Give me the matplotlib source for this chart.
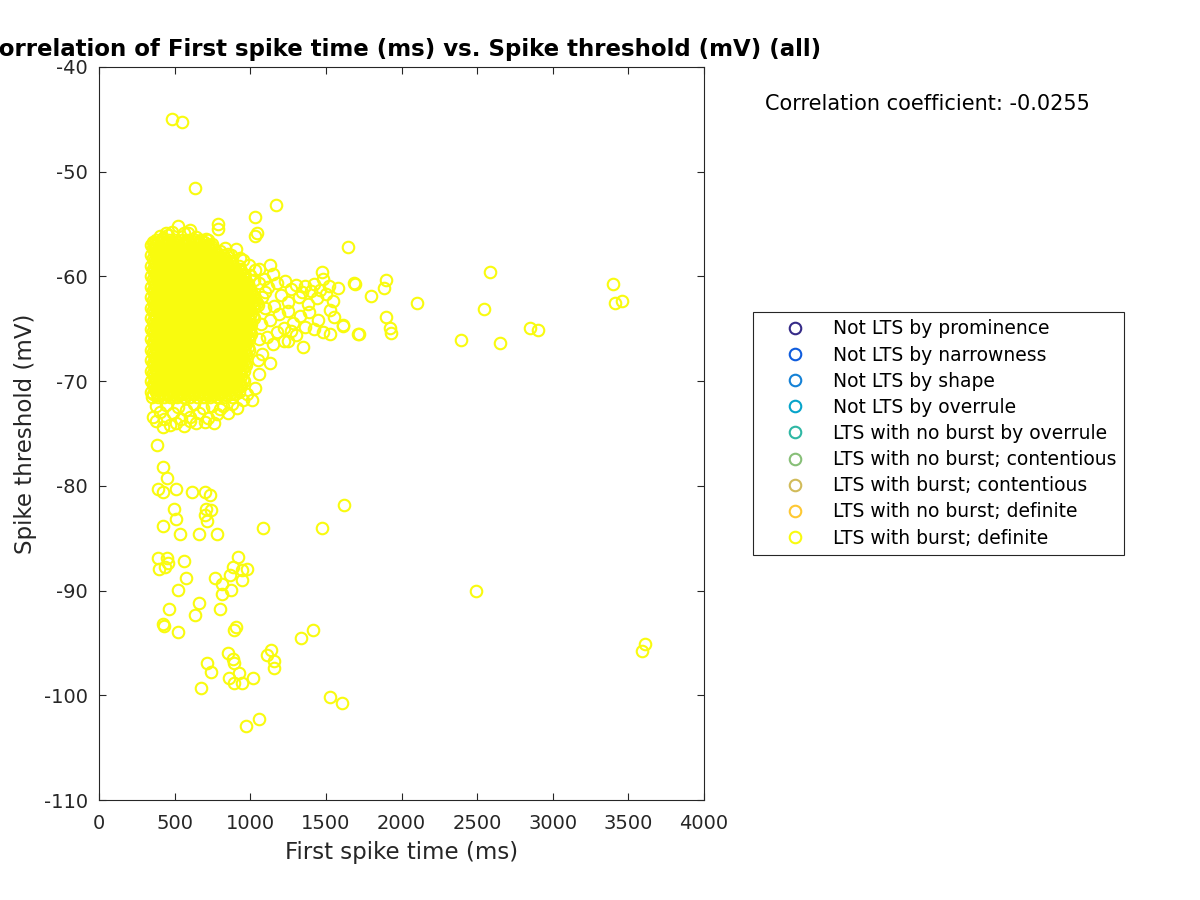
import matplotlib
matplotlib.use("Agg")
import matplotlib.pyplot as plt

# ---------------- data ----------------
categories = ["Not LTS by prominence", "Not LTS by narrowness", "Not LTS by shape",
              "Not LTS by overrule", "LTS with no burst by overrule",
              "LTS with no burst; contentious", "LTS with burst; contentious",
              "LTS with no burst; definite", "LTS with burst; definite"]
category_colors = ["#352A87", "#0F5CDD", "#1481D6", "#06A4CA", "#2EB7A4",
                   "#87BF77", "#D1BB59", "#FEC832", "#F9FB0E"]

# dense core of the "LTS with burst; definite" cloud, read row by row (mV, then ms values)
core_row_y = [-56.5, -56.75, -57.0, -57.25, -57.5, -57.75, -58.0, -58.25, -58.5, -58.75,
              -59.0, -59.25, -59.5, -59.75, -60.0, -60.25, -60.5, -60.75, -61.0, -61.25,
              -61.5, -61.75, -62.0, -62.25, -62.5, -62.75, -63.0, -63.25, -63.5, -63.75,
              -64.0, -64.25, -64.5, -64.75, -65.0, -65.25, -65.5, -65.75, -66.0, -66.25,
              -66.5, -66.75, -67.0, -67.25, -67.5, -67.75, -68.0, -68.25, -68.5, -68.75,
              -69.0, -69.25, -69.5, -69.75, -70.0, -70.25, -70.5, -70.75, -71.0, -71.25, -71.5]
core_row_x = [
    [378, 420, 463, 505, 548, 590, 633, 676, 720],
    [354, 388, 423, 456, 490, 524, 559, 592, 626, 660, 694],
    [345, 379, 414, 447, 482, 515, 549, 584, 617, 652, 685, 719],
    [354, 389, 422, 456, 491, 524, 558, 593, 626, 660, 695, 728],
    [362, 396, 431, 464, 498, 533, 566, 601, 634, 668, 703, 736, 770],
    [371, 405, 440, 473, 507, 542, 575, 609, 644, 677, 711, 746, 779],
    [346, 379, 413, 448, 481, 516, 549, 583, 618, 651, 686, 719, 753, 788, 821],
    [354, 388, 422, 457, 490, 524, 558, 593, 626, 660, 694, 729, 762, 796, 830],
    [362, 397, 430, 464, 499, 532, 566, 600, 635, 668, 702, 737, 770, 804, 839, 872],
    [371, 405, 439, 474, 507, 541, 575, 610, 643, 677, 711, 746, 779, 813, 847, 881],
    [345, 380, 413, 447, 481, 516, 549, 583, 617, 652, 685, 719, 754, 787, 821, 856, 889, 923],
    [354, 388, 423, 456, 490, 524, 559, 592, 626, 660, 694, 728, 763, 796, 830, 864, 898, 932],
    [362, 396, 431, 464, 498, 532, 567, 600, 634, 669, 702, 736, 771, 804, 838, 873, 906, 940],
    [371, 405, 439, 473, 508, 541, 575, 609, 643, 678, 711, 745, 779, 813, 848, 881, 915, 949],
    [345, 379, 413, 448, 481, 515, 550, 583, 617, 651, 686, 719, 753, 787, 822, 855, 889, 924, 957],
    [354, 389, 422, 456, 490, 525, 558, 592, 626, 661, 694, 728, 762, 796, 831, 864, 898, 932, 966],
    [363, 396, 430, 465, 498, 532, 566, 601, 634, 668, 702, 737, 770, 804, 839, 872, 906, 940, 975],
    [371, 405, 440, 473, 507, 541, 576, 609, 643, 677, 712, 745, 779, 813, 847, 882, 915, 949, 983],
    [345, 379, 414, 447, 481, 515, 549, 584, 617, 651, 685, 720, 753, 787, 821, 856, 889, 923, 957, 991],
    [354, 388, 422, 457, 490, 524, 558, 592, 627, 660, 694, 728, 762, 797, 830, 864, 898, 932, 967, 1000],
    [362, 397, 430, 464, 498, 533, 566, 600, 634, 669, 702, 736, 770, 805, 838, 872, 906, 941, 974, 1008],
    [371, 405, 439, 473, 508, 541, 575, 609, 643, 677, 711, 746, 779, 813, 847, 881, 916, 949, 983, 1017],
    [346, 379, 413, 447, 482, 515, 549, 583, 618, 651, 685, 719, 754, 787, 821, 855, 890, 923, 957, 991, 1025],
    [354, 388, 423, 456, 490, 524, 558, 593, 626, 660, 694, 728, 763, 796, 830, 864, 898, 933, 966, 1000, 1034],
    [362, 396, 431, 464, 498, 532, 567, 600, 634, 668, 703, 736, 770, 804, 839, 872, 906, 940, 975, 1008, 1042],
    [371, 405, 439, 474, 507, 541, 575, 609, 644, 677, 711, 745, 779, 814, 847, 881, 915, 949, 984, 1017, 1051],
    [345, 380, 413, 447, 481, 516, 549, 583, 617, 652, 685, 719, 753, 788, 821, 855, 889, 924, 957, 991, 1025],
    [354, 388, 422, 456, 491, 524, 558, 592, 626, 661, 694, 728, 762, 796, 830, 865, 898, 932, 966, 1000],
    [362, 396, 430, 465, 498, 532, 566, 601, 634, 668, 702, 737, 770, 804, 838, 873, 906, 940, 974, 1008],
    [371, 405, 440, 473, 507, 541, 575, 610, 643, 677, 711, 745, 780, 813, 847, 881, 915, 950, 983, 1017],
    [345, 379, 413, 448, 481, 515, 549, 584, 617, 651, 685, 720, 753, 787, 821, 856, 889, 923, 957, 992, 1025],
    [354, 389, 422, 456, 490, 524, 559, 592, 626, 660, 694, 729, 762, 796, 830, 864, 899, 932, 966, 1000],
    [363, 396, 430, 464, 499, 532, 566, 600, 635, 668, 702, 736, 771, 804, 838, 872, 907, 940, 974, 1008],
    [371, 405, 439, 473, 507, 542, 575, 609, 643, 677, 712, 745, 779, 813, 847, 881, 916, 949, 983],
    [345, 379, 414, 447, 481, 515, 550, 583, 617, 651, 686, 719, 753, 787, 822, 855, 889, 923, 958, 991],
    [354, 388, 423, 456, 490, 524, 558, 593, 626, 660, 694, 728, 763, 796, 830, 864, 898, 932, 967, 1000],
    [362, 397, 430, 464, 498, 533, 566, 600, 634, 669, 702, 736, 770, 805, 838, 872, 906, 941, 974, 1008],
    [371, 405, 440, 473, 507, 541, 576, 609, 643, 677, 711, 746, 779, 813, 847, 882, 915, 949, 983],
    [346, 379, 413, 447, 482, 515, 549, 583, 618, 651, 685, 719, 754, 787, 821, 855, 890, 923, 957, 991],
    [354, 388, 422, 457, 490, 524, 558, 592, 627, 660, 694, 728, 762, 797, 830, 864, 898, 932, 966],
    [362, 396, 431, 464, 498, 532, 567, 600, 634, 668, 703, 736, 770, 804, 839, 872, 906, 940, 974],
    [371, 405, 439, 473, 508, 541, 575, 609, 643, 677, 711, 745, 779, 814, 847, 881, 915, 949, 983],
    [345, 380, 413, 447, 481, 516, 549, 583, 617, 652, 685, 719, 753, 788, 821, 855, 889, 924, 957, 991],
    [354, 388, 423, 456, 490, 524, 559, 592, 626, 660, 694, 728, 763, 796, 830, 864, 898, 932, 966],
    [362, 396, 430, 465, 498, 532, 566, 601, 634, 668, 702, 737, 770, 804, 838, 873, 906, 940, 974],
    [371, 405, 439, 474, 507, 541, 575, 610, 643, 677, 711, 745, 779, 813, 848, 881, 915, 949],
    [345, 379, 413, 448, 481, 515, 549, 584, 617, 651, 685, 720, 753, 787, 821, 856, 889, 923, 957],
    [354, 389, 422, 456, 490, 525, 558, 592, 626, 661, 694, 728, 762, 796, 831, 864, 898, 932, 966],
    [363, 396, 430, 464, 499, 532, 566, 600, 635, 668, 702, 736, 771, 804, 838, 872, 907, 940, 974],
    [371, 405, 440, 473, 507, 541, 576, 609, 643, 677, 712, 745, 779, 813, 847, 882, 915, 949],
    [345, 379, 414, 447, 481, 515, 550, 583, 617, 651, 686, 719, 753, 787, 822, 855, 889, 923, 957],
    [354, 388, 422, 457, 490, 524, 558, 592, 627, 660, 694, 728, 762, 797, 830, 864, 898, 932],
    [362, 397, 430, 464, 498, 533, 566, 600, 634, 669, 702, 736, 770, 805, 838, 872, 906, 940],
    [371, 405, 439, 473, 508, 541, 575, 609, 643, 677, 711, 746, 779, 813, 847, 881, 916, 949],
    [346, 379, 413, 447, 482, 515, 549, 583, 618, 651, 685, 719, 754, 787, 821, 855, 890, 923, 957],
    [354, 388, 423, 456, 490, 524, 558, 593, 626, 660, 694, 728, 763, 796, 830, 864, 898, 933],
    [362, 396, 431, 464, 498, 532, 567, 600, 634, 668, 703, 736, 770, 804, 839, 872, 906, 940],
    [371, 405, 439, 474, 507, 541, 575, 609, 644, 677, 711, 745, 779, 814, 847, 881, 915],
    [345, 380, 413, 447, 481, 516, 549, 583, 617, 652, 685, 719, 753, 788, 821, 855, 889, 923],
    [354, 388, 422, 456, 491, 524, 558, 592, 626, 661, 694, 728, 762, 796, 830, 865, 898],
    [352, 390, 430, 470, 515, 560, 600, 645, 690, 735, 780, 830, 880],
]

# edges of the cloud and its tail (ms, mV)
edge_x = [366, 405, 440, 480, 524, 560, 601, 640, 668, 710, 750, 784, 784, 800, 833, 870, 905, 950,
          990, 1030, 1060, 1130, 1000, 1025, 1060, 420, 455, 590, 740, 850, 930,
          1090, 1120, 1150, 1180, 1200, 1230, 1250, 1270, 1300, 1320, 1340, 1360, 1380, 1400, 1420,
          1440, 1460, 1480, 1500, 1520, 1545, 1474, 1582, 1610, 1686, 1693, 1721, 1801, 1527, 1554,
          1483, 1527, 1615, 1714, 1884, 1898, 2105, 2587, 3398, 3412, 3456, 2545, 1898, 1924, 1928,
          2850, 2905, 2393, 2653, 1648,
          1100, 1130, 1160, 1190, 1220, 1250, 1280, 1300, 1330, 1360, 1390, 1420, 1450, 1110, 1150,
          1180, 1220, 1250, 1270, 1349, 1080, 1060, 1050, 1130, 1031, 1010, 1080, 1070, 1060, 1100,
          357, 380, 405, 440, 470, 490, 520, 545, 575, 602, 630, 660, 690, 720, 750, 778, 800, 820,
          850, 880, 910, 952, 932, 980, 380, 430, 510, 560, 640, 700, 760, 420, 600]
edge_y = [-56.85, -56.1, -55.9, -55.8, -55.2, -55.9, -55.6, -56.2, -56.85, -56.4, -56.9, -55.0, -55.5,
          -57.6, -57.3, -58.0, -57.4, -58.4, -58.9, -59.4, -59.3, -58.9, -59.9, -60.3, -60.6,
          -56.3, -56.0, -55.9, -57.1, -57.9, -58.2,
          -60.2, -61.0, -59.8, -60.6, -61.8, -60.4, -62.4, -61.2, -60.8, -62.0, -61.5, -60.9, -62.6,
          -61.4, -60.7, -62.1, -61.3, -60.2, -61.7, -60.9, -62.3, -59.6, -61.1, -64.74, -60.66,
          -60.72, -65.5, -61.9, -63.2, -63.9, -65.3, -65.5, -64.6, -65.5, -61.1, -60.34, -62.54,
          -59.55, -60.72, -62.54, -62.31, -63.14, -63.9, -64.96, -65.43, -64.9, -65.12, -66.1,
          -66.32, -57.16,
          -63.0, -64.2, -62.8, -63.6, -64.9, -63.3, -64.4, -65.6, -63.8, -64.8, -63.4, -65.0, -64.2,
          -65.8, -66.5, -65.3, -66.2, -66.2, -65.2, -66.7, -67.4, -69.3, -68.0, -68.3, -70.7, -71.8,
          -62.0, -64.5, -66.0, -61.5,
          -73.4, -72.4, -72.9, -72.3, -74.2, -73.0, -72.5, -73.6, -72.8, -73.4, -72.2, -73.0, -72.6,
          -73.5, -72.4, -73.1, -72.7, -72.4, -73.0, -72.2, -72.6, -71.8, -70.4, -71.2, -73.8, -73.6,
          -74.0, -74.3, -74.0, -73.9, -74.0, -74.4, -73.8]

# isolated points (ms, mV)
outlier_x = [480, 551, 632, 1170, 1031, 1043, 1031,
             384, 425, 452, 392, 425, 506, 617, 701, 731, 496, 506, 425, 533, 658, 782, 705, 738,
             701, 712, 1084, 1472, 1620, 392, 452, 397, 436, 458, 564, 578, 520, 465, 425, 430, 520,
             658, 632, 797, 921, 888, 947, 980, 947, 866, 767, 811, 811, 871, 893, 908, 1333, 1417,
             850, 888, 895, 711, 740, 672, 860, 893, 926, 947, 1016, 1113, 1139, 1157, 1155, 1525,
             1609, 1058, 970, 2493, 3608, 3592]
outlier_y = [-45.0, -45.25, -51.6, -53.2, -54.35, -55.9, -56.1,
             -76.07, -78.23, -79.25, -80.27, -80.62, -80.27, -80.62, -80.62, -80.84, -82.24, -83.2,
             -83.84, -84.63, -84.63, -84.63, -82.24, -82.3, -82.8, -83.36, -84.0, -84.0, -81.83,
             -86.86, -86.86, -87.94, -87.72, -87.4, -87.18, -88.77, -89.98, -91.8, -93.2, -93.4,
             -93.96, -91.15, -92.36, -91.8, -86.76, -87.72, -88.04, -87.97, -89.0, -88.5, -88.77,
             -89.37, -90.36, -89.98, -93.77, -93.5, -94.56, -93.77, -95.94, -96.57, -96.95, -96.95,
             -97.73, -99.34, -98.33, -98.8, -97.9, -98.8, -98.33, -96.15, -95.67, -96.73, -97.37,
             -100.14, -100.7, -102.3, -102.9, -90.0, -95.1, -95.8]

x_ticks = [0, 500, 1000, 1500, 2000, 2500, 3000, 3500, 4000]
y_ticks = [-110, -100, -90, -80, -70, -60, -50, -40]
corr_text = "Correlation coefficient: -0.0255"
title_text = "Correlation of First spike time (ms) vs. Spike threshold (mV) (all)"

# ---------------- assemble ----------------
burst_x, burst_y = [], []
for yv, xs in zip(core_row_y, core_row_x):
    burst_x.extend(xs)
    burst_y.extend([yv] * len(xs))
burst_x += edge_x + outlier_x
burst_y += edge_y + outlier_y

series_x = [[] for _ in categories[:-1]] + [burst_x]
series_y = [[] for _ in categories[:-1]] + [burst_y]

# ---------------- plot ----------------
plt.rcParams['font.family'] = ['DejaVu Sans']
plt.rcParams['axes.unicode_minus'] = False
fig = plt.figure(figsize=(12, 9), dpi=100)
ax = fig.add_axes([99 / 1200, 1 - 800 / 900, 605 / 1200, 733 / 900])

for name, col, xs, ys in zip(categories, category_colors, series_x, series_y):
    ax.plot(xs, ys, linestyle='none', marker='o', markersize=8.3, markeredgewidth=1.5,
            markerfacecolor='none', markeredgecolor=col, label=name, antialiased=False)

ax.set_xlim(0, 4000)
ax.set_ylim(-110, -40)
ax.set_xticks(x_ticks)
ax.set_yticks(y_ticks)
ax.tick_params(direction='in', length=5, width=0.8, top=True, right=True,
               labelsize=14, colors='#262626')
ax.tick_params(axis='x', pad=10)
ax.tick_params(axis='y', pad=8)
for sp in ax.spines.values():
    sp.set_color('#262626')
    sp.set_linewidth(0.8)

ax.set_xlabel("First spike time (ms)", fontsize=16.5, color='#262626', labelpad=6)
ax.set_ylabel("Spike threshold (mV)", fontsize=16.5, color='#262626', labelpad=5)
ax.set_title(title_text, fontsize=16.5, fontweight='bold', pad=8)

fig.text(765 / 1200, 1 - 104 / 900, corr_text, fontsize=15, va='center', ha='left')

leg = ax.legend(loc='upper left', bbox_to_anchor=(753 / 1200, 1 - 312 / 900),
                bbox_transform=fig.transFigure, borderaxespad=0, fontsize=13.5,
                handlelength=3.68, handletextpad=0.2, borderpad=0.4, labelspacing=0.38,
                frameon=True, fancybox=False, framealpha=1, numpoints=1)
leg.get_frame().set_edgecolor('#262626')
leg.get_frame().set_linewidth(0.8)

fig.savefig("out.png", dpi=100)
